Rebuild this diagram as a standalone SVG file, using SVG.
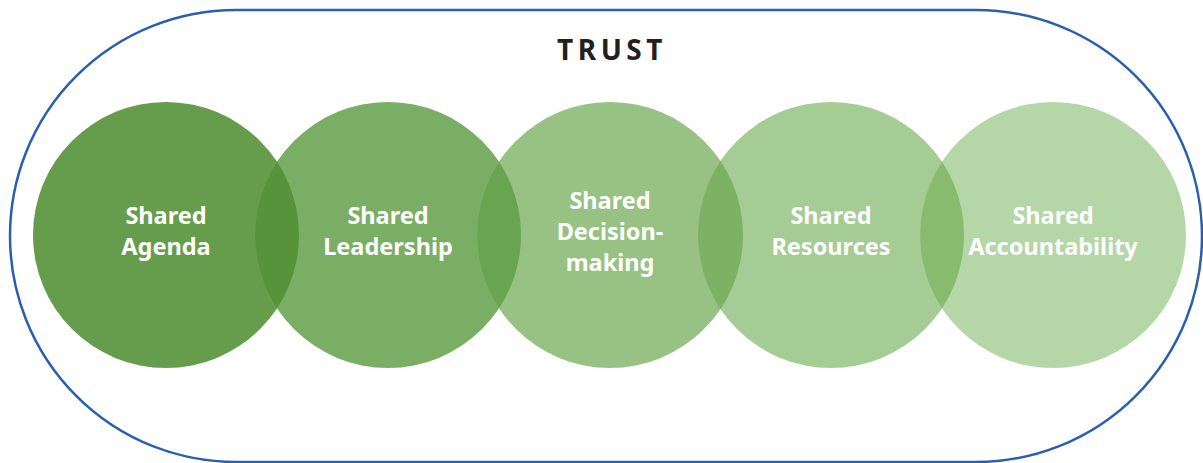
<svg xmlns="http://www.w3.org/2000/svg" width="1203" height="463" viewBox="0 0 1203 463">
  <style>
    .frame { fill: none; stroke: #2a5fae; stroke-width: 2.5; }
    .title { font-family: "Noto Sans", "Open Sans", sans-serif; font-weight: 700; font-size: 28px; letter-spacing: 4.5px; fill: #231f20; text-anchor: middle; }
    .label { font-family: "Noto Sans", "Open Sans", sans-serif; font-weight: 700; font-size: 23.5px; fill: #ffffff; text-anchor: middle; }
  </style>
  <defs>
    <clipPath id="clip-c1"><circle cx="166" cy="235" r="133"/></clipPath>
    <clipPath id="clip-c2"><circle cx="388" cy="235" r="133"/></clipPath>
    <clipPath id="clip-c3"><circle cx="610" cy="235" r="133"/></clipPath>
    <clipPath id="clip-c4"><circle cx="831" cy="235" r="133"/></clipPath>
  </defs>

  <rect width="1203" height="463" fill="#ffffff"/>

  <!-- outer trust boundary -->
  <g id="trust">
    <rect class="frame" x="10" y="10" width="1192" height="452" rx="226" ry="226"/>
    <text class="title" x="612" y="60">TRUST</text>
  </g>

  <!-- the five shared elements -->
  <g id="node-agenda">
    <circle cx="166" cy="235" r="133" fill="#659d4c"/>
  </g>
  <g id="node-leadership">
    <circle cx="388" cy="235" r="133" fill="#7bae65"/>
    <circle cx="388" cy="235" r="133" fill="#57933b" clip-path="url(#clip-c1)"/>
  </g>
  <g id="node-decision">
    <circle cx="610" cy="235" r="133" fill="#97c283"/>
    <circle cx="610" cy="235" r="133" fill="#69a451" clip-path="url(#clip-c2)"/>
  </g>
  <g id="node-resources">
    <circle cx="831" cy="235" r="133" fill="#a6cc95"/>
    <circle cx="831" cy="235" r="133" fill="#7db164" clip-path="url(#clip-c3)"/>
  </g>
  <g id="node-accountability">
    <circle cx="1053" cy="235" r="133" fill="#b5d6a7"/>
    <circle cx="1053" cy="235" r="133" fill="#89bb6f" clip-path="url(#clip-c4)"/>
  </g>

  <g id="labels">
    <text class="label" x="166" y="224">Shared</text>
    <text class="label" x="166" y="255">Agenda</text>
    <text class="label" x="388" y="224">Shared</text>
    <text class="label" x="388" y="255">Leadership</text>
    <text class="label" x="610" y="209">Shared</text>
    <text class="label" x="610" y="240">Decision-</text>
    <text class="label" x="610" y="271">making</text>
    <text class="label" x="831" y="224">Shared</text>
    <text class="label" x="831" y="255">Resources</text>
    <text class="label" x="1053" y="224">Shared</text>
    <text class="label" x="1053" y="255">Accountability</text>
  </g>

  <!-- no connectors in this diagram -->
  <g id="connectors"/>
</svg>
